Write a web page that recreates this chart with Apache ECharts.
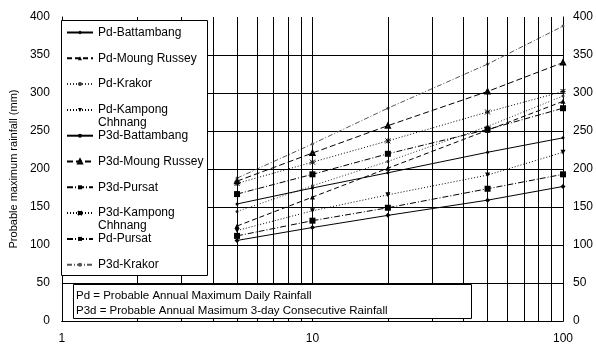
<!DOCTYPE html>
<html>
<head>
<meta charset="utf-8">
<script src="https://cdn.jsdelivr.net/npm/echarts@6/dist/echarts.min.js"></script>
<style>
  html, body { margin: 0; padding: 0; background: #fff; }
  #chart { width: 596px; height: 345px; }
</style>
</head>
<body>
<div id="chart"></div>
<script>
// Return periods (years) on the log axis
const returnPeriods = [5, 10, 20, 50, 100];

// Probable maximum rainfall (mm) per station
const pdBattambang      = [106, 123, 139, 159, 177];
const pdMoungRussey     = [125, 163, 201, 251, 289];
const pdKrakor          = [144, 178, 210, 256, 296];
const pdKampongChhnang  = [119, 145, 166, 192, 222];
const p3dBattambang     = [154, 175, 195, 222, 241];
const p3dMoungRussey    = [184, 221, 257, 302, 340];
const p3dPursat         = [167, 193, 220, 252, 280];
const p3dKampongChhnang = [181, 209, 237, 275, 302];
const pdPursat          = [112, 132, 149, 174, 193];
const p3dKrakor         = [188, 233, 280, 338, 388];

const seriesNames = [
  'Pd-Battambang', 'Pd-Moung Russey', 'Pd-Krakor', 'Pd-Kampong Chhnang',
  'P3d-Battambang', 'P3d-Moung Russey', 'P3d-Pursat', 'P3d-Kampong Chhnang',
  'Pd-Pursat', 'P3d-Krakor'
];
const seriesValues = [
  pdBattambang, pdMoungRussey, pdKrakor, pdKampongChhnang,
  p3dBattambang, p3dMoungRussey, p3dPursat, p3dKampongChhnang,
  pdPursat, p3dKrakor
];

// Intermediate log-decade grid lines
const minorGridValues = [2, 3, 4, 5, 6, 7, 8, 9, 20, 30, 40, 50, 60, 70, 80, 90];

const noteLines = [
  'Pd = Probable Annual Maximum Daily Rainfall',
  'P3d = Probable Annual Masimum 3-day Consecutive Rainfall'
];

const FONT = '"Liberation Sans", Arial, sans-serif';
const STAR = 'path://M0,0L10,10M10,0L0,10M5,0L5,10M0,5L10,5';

// Line dash, marker and tone for each series
const looks = {
  'Pd-Battambang':       { dash: 'solid',        symbol: 'diamond',  size: 5, color: '#000' },
  'Pd-Moung Russey':     { dash: [5, 3],         symbol: 'triangle', size: 5, color: '#000' },
  'Pd-Krakor':           { dash: [1, 2],         symbol: 'circle',   size: 3, color: '#333' },
  'Pd-Kampong Chhnang':  { dash: [1, 2],         symbol: 'triangle', size: 5, color: '#000', rotate: 180 },
  'P3d-Battambang':      { dash: 'solid',        symbol: 'circle',   size: 3, color: '#000' },
  'P3d-Moung Russey':    { dash: [6, 3],         symbol: 'emptyTriangle', size: 4, color: '#000', stroke: true },
  'P3d-Pursat':          { dash: [6, 2, 1, 2],   symbol: 'rect',     size: 6, color: '#000' },
  'P3d-Kampong Chhnang': { dash: [1, 2],         symbol: STAR,       size: 5, color: '#000', stroke: true },
  'Pd-Pursat':           { dash: [6, 2, 1, 2],   symbol: 'rect',     size: 6, color: '#000' },
  'P3d-Krakor':          { dash: [5, 2, 1, 2],   symbol: 'circle',   size: 3, color: '#555' }
};

const dataSeries = seriesNames.map((name, k) => {
  const lk = looks[name];
  return {
    type: 'line',
    name: name,
    data: returnPeriods.map((t, i) => [t, seriesValues[k][i]]),
    symbol: lk.symbol,
    symbolSize: lk.size,
    symbolRotate: lk.rotate || 0,
    showAllSymbol: true,
    lineStyle: { color: lk.color, width: 1, type: lk.dash },
    itemStyle: lk.stroke
      ? { color: lk.color, borderColor: lk.color, borderWidth: 1 }
      : { color: lk.color },
    emphasis: { disabled: true },
    z: 3
  };
});

const gridSeries = {
  type: 'line',
  name: 'decade-grid',
  data: [],
  silent: true,
  z: 1,
  markLine: {
    silent: true,
    symbol: ['none', 'none'],
    label: { show: false },
    lineStyle: { color: '#000', type: 'solid', width: 1 },
    data: minorGridValues.map(v => ({ xAxis: v }))
  }
};

const chart = echarts.init(document.getElementById('chart'), null, { renderer: 'canvas' });

chart.setOption({
  animation: false,
  backgroundColor: '#fff',
  textStyle: { fontFamily: FONT },
  grid: { left: 57, right: 28, top: 17, bottom: 22 },
  xAxis: [
    {
      type: 'log', logBase: 10, min: 1, max: 100, position: 'bottom',
      axisLine: { show: true, lineStyle: { color: '#000', width: 1 } },
      axisTick: { show: false },
      axisLabel: { color: '#000', fontSize: 12, margin: 12, fontFamily: FONT },
      splitLine: { show: true, lineStyle: { color: '#000', width: 1 } }
    },
    {
      type: 'log', logBase: 10, min: 1, max: 100, position: 'top',
      axisLine: { show: true, lineStyle: { color: '#000', width: 1, type: [1, 2] } },
      axisTick: { show: false },
      axisLabel: { show: false },
      splitLine: { show: false }
    }
  ],
  yAxis: [
    {
      type: 'value', min: 0, max: 400, interval: 50, position: 'left',
      name: 'Probable maximum rainfall (mm)',
      nameLocation: 'middle', nameGap: 32,
      nameTextStyle: { color: '#000', fontSize: 11, fontFamily: FONT },
      axisLine: { show: true, lineStyle: { color: '#000', width: 1 } },
      axisTick: { show: false },
      axisLabel: { color: '#000', fontSize: 12, margin: 12, fontFamily: FONT },
      splitLine: { show: true, showMaxLine: false, lineStyle: { color: '#000', width: 1 } }
    },
    {
      type: 'value', min: 0, max: 400, interval: 50, position: 'right',
      axisLine: { show: true, lineStyle: { color: '#000', width: 1 } },
      axisTick: { show: false },
      axisLabel: { color: '#000', fontSize: 12, margin: 10, fontFamily: FONT },
      splitLine: { show: false }
    }
  ],
  legend: {
    orient: 'vertical',
    left: 66,
    top: 13,
    padding: 0,
    itemGap: -13.2,
    itemWidth: 26,
    itemHeight: 5,
    selectedMode: false,
    data: seriesNames,
    formatter: name => name.indexOf(' Chhnang') >= 0
      ? '\n' + name.replace(' Chhnang', '\nChhnang')
      : '\n' + name + '\n ',
    textStyle: { color: '#000', fontSize: 12, lineHeight: 13, fontFamily: FONT },
    zlevel: 1,
    z: 5
  },
  graphic: [
    {
      type: 'rect', zlevel: 1, z: 1,
      shape: { x: 61.5, y: 20.5, width: 146, height: 255 },
      style: { fill: '#fff', stroke: '#000', lineWidth: 1 }
    },
    {
      type: 'rect', zlevel: 1, z: 1,
      shape: { x: 73.5, y: 284.5, width: 398, height: 34 },
      style: { fill: '#fff', stroke: '#000', lineWidth: 1 }
    },
    {
      type: 'text', zlevel: 1, z: 2, x: 76, y: 296,
      style: { text: noteLines[0], fill: '#000', font: '11.5px ' + FONT, verticalAlign: 'middle' }
    },
    {
      type: 'text', zlevel: 1, z: 2, x: 76, y: 311,
      style: { text: noteLines[1], fill: '#000', font: '11.5px ' + FONT, verticalAlign: 'middle' }
    }
  ],
  series: [gridSeries].concat(dataSeries)
});
</script>
</body>
</html>
